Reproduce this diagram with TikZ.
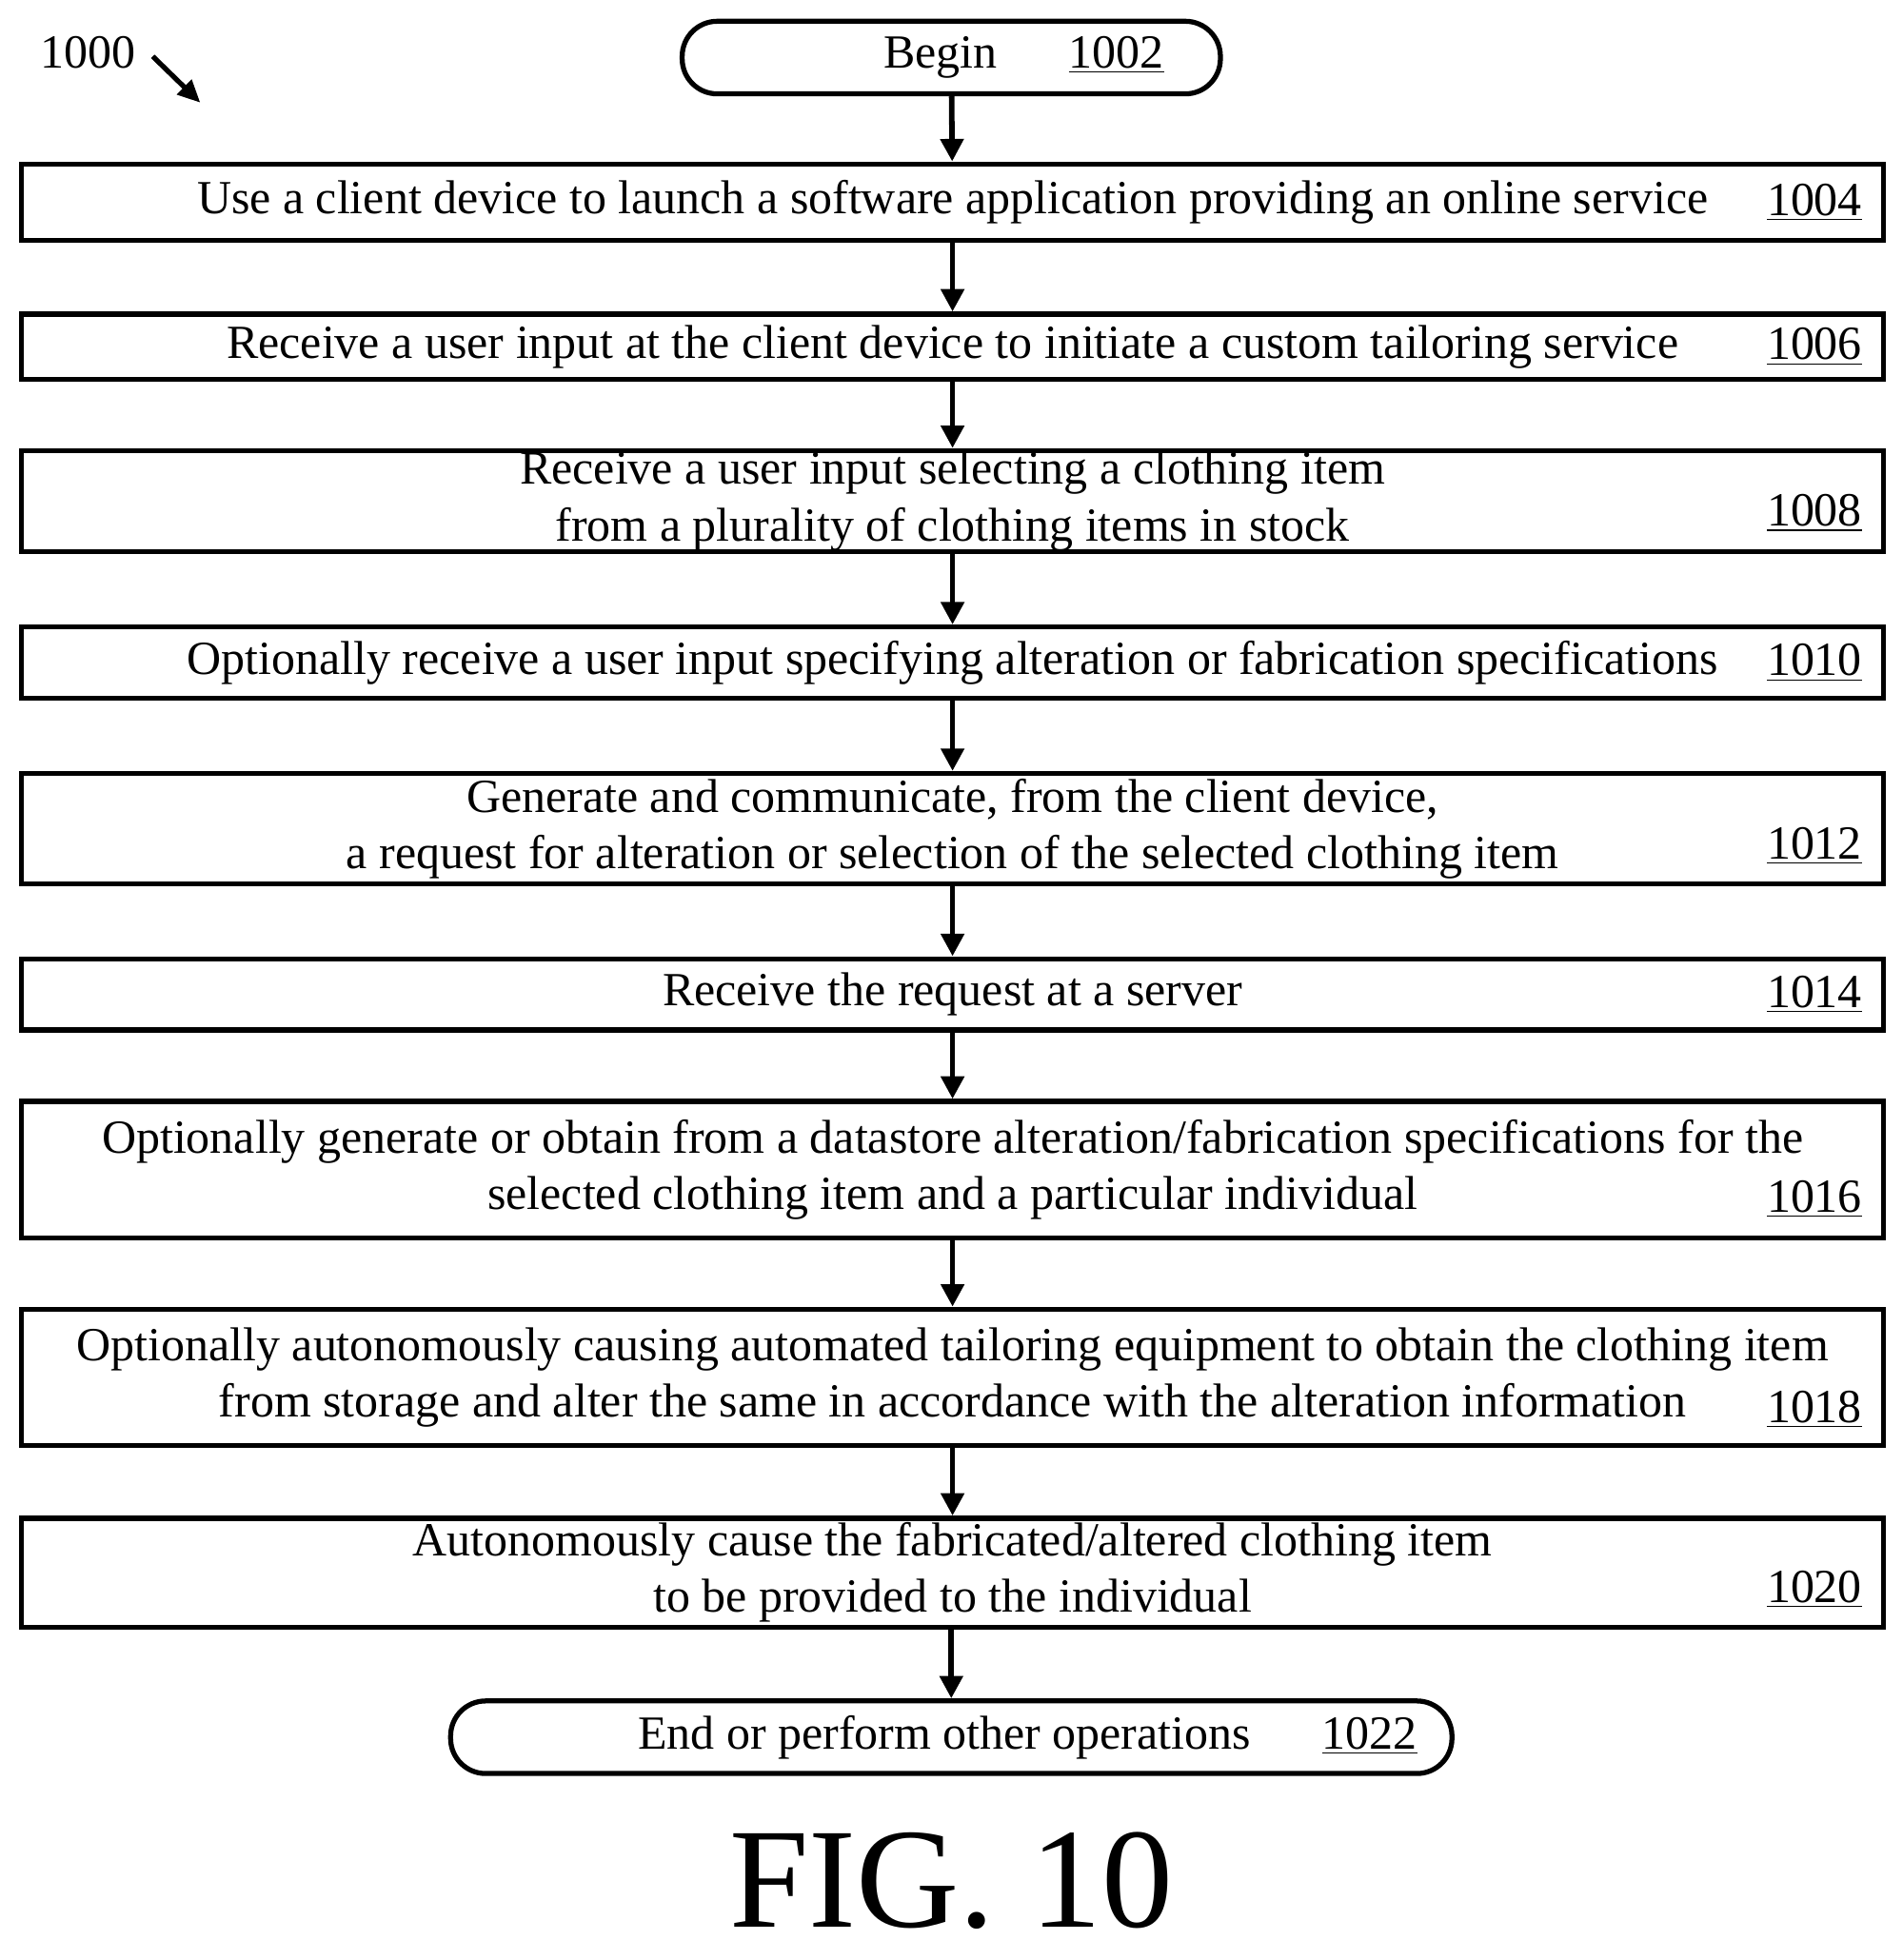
\documentclass[tikz,border=0pt]{standalone}
\usepackage{fontspec}
\setmainfont{Liberation Serif}
\usetikzlibrary{arrows.meta}
\begin{document}
\begin{tikzpicture}[x=0.5pt,y=-0.5pt,
 box/.style={draw,line width=2pt,minimum width=744pt,align=center,inner sep=0pt,font=\fontsize{19}{22.5}\selectfont},
 term/.style={draw,line width=2pt,rounded corners=14pt,minimum height=29pt,inner sep=0pt,font=\fontsize{19}{22.5}\selectfont},
 num/.style={anchor=east,inner sep=0pt,font=\fontsize{19}{22.5}\selectfont},
 arr/.style={line width=2.2pt,-{Triangle[length=9pt,width=9pt]}}]
\useasboundingbox (0,0) rectangle (1520,1566);
\node[term,minimum width=215pt] (b) at (760,46) {};
\node[font=\fontsize{19}{22.5}\selectfont] (bt) at (818,46) {Begin\hspace{1.5em}\underline{1002}};
\node[box,minimum height=30.5pt] (s1) at (761,161.5) {Use a client device to launch a software application providing an online service};
\node[box,minimum height=26pt] (s2) at (761,277) {Receive a user input at the client device to initiate a custom tailoring service};
\node[box,minimum height=40.5pt] (s3) at (761,400.5) {Receive a user input selecting a clothing item\\from a plurality of clothing items in stock};
\node[box,minimum height=28.5pt] (s4) at (761,529.5) {Optionally receive a user input specifying alteration or fabrication specifications};
\node[box,minimum height=44pt] (s5) at (761,662) {Generate and communicate, from the client device,\\a request for alteration or selection of the selected clothing item};
\node[box,minimum height=28.5pt] (s6) at (761,794.5) {Receive the request at a server};
\node[box,minimum height=54.5pt] (s7) at (761,934.5) {Optionally generate or obtain from a datastore alteration/fabrication specifications for the\\selected clothing item and a particular individual};
\node[box,minimum height=54.5pt] (s8) at (761,1100.5) {Optionally autonomously causing automated tailoring equipment to obtain the clothing item\\from storage and alter the same in accordance with the alteration information};
\node[box,minimum height=43.5pt] (s9) at (761,1256.5) {Autonomously cause the fabricated/altered clothing item\\to be provided to the individual};
\node[term,minimum width=400pt] (e) at (760,1388) {};
\node[font=\fontsize{19}{22.5}\selectfont] (et) at (821,1388) {End or perform other operations\hspace{1.5em}\underline{1022}};
\node[num] (n1) at (1488,161.5) {\underline{1004}};
\node[num] (n2) at (1488,277) {\underline{1006}};
\node[num] (n3) at (1488,410) {\underline{1008}};
\node[num] (n4) at (1488,529.5) {\underline{1010}};
\node[num] (n5) at (1488,676) {\underline{1012}};
\node[num] (n6) at (1488,794.5) {\underline{1014}};
\node[num] (n7) at (1488,958) {\underline{1016}};
\node[num] (n8) at (1488,1126) {\underline{1018}};
\node[num] (n9) at (1488,1270) {\underline{1020}};
\node[font=\fontsize{19}{22.5}\selectfont] (lbl) at (70,42) {1000};
\coordinate (la) at (122,45);
\coordinate (lb) at (160,82);
\draw[line width=2pt,-{Triangle[length=9pt,width=8pt]}] (la) -- (lb);
\draw[arr] (b) -- (s1);
\draw[arr] (s1) -- (s2);
\draw[arr] (s2) -- (s3);
\draw[arr] (s3) -- (s4);
\draw[arr] (s4) -- (s5);
\draw[arr] (s5) -- (s6);
\draw[arr] (s6) -- (s7);
\draw[arr] (s7) -- (s8);
\draw[arr] (s8) -- (s9);
\draw[arr] (s9.south -| e) -- (e);
\node[font=\fontsize{57}{62}\selectfont] (fig) at (760,1503) {FIG. 10};
\end{tikzpicture}
\end{document}
